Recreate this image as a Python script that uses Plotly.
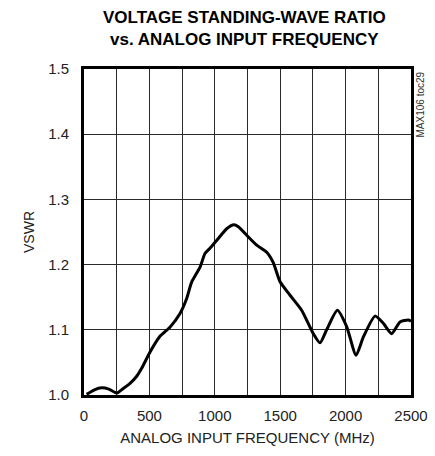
import plotly.graph_objects as go

freq_mhz = [20, 80, 135, 190, 252, 300, 352, 400, 441, 505, 581, 657, 734, 785, 823, 887, 925,
            963, 1014, 1091, 1147, 1180, 1244, 1320, 1397, 1447, 1498, 1575, 1664, 1753, 1804,
            1855, 1937, 2008, 2080, 2136, 2225, 2288, 2352, 2416, 2480, 2500]
vswr = [1.001, 1.008, 1.011, 1.009, 1.003, 1.010, 1.018, 1.028, 1.041, 1.066, 1.090, 1.104, 1.125,
        1.148, 1.173, 1.196, 1.217, 1.225, 1.237, 1.255, 1.261, 1.258, 1.245, 1.230, 1.219, 1.203,
        1.174, 1.153, 1.130, 1.094, 1.080, 1.100, 1.130, 1.105, 1.061, 1.089, 1.121, 1.110, 1.094,
        1.112, 1.115, 1.113]

x_ticks = [0, 500, 1000, 1500, 2000, 2500]
y_ticks = [1.0, 1.1, 1.2, 1.3, 1.4, 1.5]

FONT = "Liberation Sans Narrow, Liberation Sans, Arial, sans-serif"
TFONT = "Liberation Sans, Arial, sans-serif"

fig = go.Figure()
fig.add_trace(go.Scatter(x=freq_mhz, y=vswr, mode="lines",
                         line=dict(color="black", width=3, shape="spline", smoothing=0.6),
                         hoverinfo="skip", showlegend=False))

fig.update_layout(
    width=435, height=456,
    margin=dict(l=84, r=24, t=69, b=61, autoexpand=False),
    paper_bgcolor="white", plot_bgcolor="white",
    font=dict(family=FONT, size=15, color="#222"),
    xaxis=dict(range=[0, 2500], tickvals=x_ticks, ticktext=[str(v) for v in x_ticks],
               showgrid=True, gridcolor="#2a2a2a", gridwidth=1,
               showline=True, linecolor="black", linewidth=3, mirror=True,
               ticks="", zeroline=False, automargin=False, ticklabelstandoff=5,
               minor=dict(dtick=250, tick0=0, showgrid=True, gridcolor="#2a2a2a", gridwidth=1),
               title=dict(text="ANALOG INPUT FREQUENCY (MHz)", standoff=10,
                          font=dict(family=FONT, size=15, color="#222"))),
    yaxis=dict(range=[1.0, 1.5], tickvals=y_ticks, ticktext=[f"{v:.1f}" for v in y_ticks],
               showgrid=True, gridcolor="#2a2a2a", gridwidth=1,
               showline=True, linecolor="black", linewidth=3, mirror=True,
               ticks="", zeroline=False, automargin=False, ticklabelstandoff=9,
               title=dict(text="VSWR", standoff=11,
                          font=dict(family=FONT, size=14, color="#222"))),
)

fig.add_annotation(text="<b>VOLTAGE STANDING-WAVE RATIO</b>", xref="paper", yref="paper",
                   x=0.492, y=1.1595, xanchor="center", yanchor="middle", showarrow=False,
                   font=dict(family=TFONT, size=17, color="black"))
fig.add_annotation(text="<b>vs. ANALOG INPUT FREQUENCY</b>", xref="paper", yref="paper",
                   x=0.492, y=1.089, xanchor="center", yanchor="middle", showarrow=False,
                   font=dict(family=TFONT, size=17, color="black"))

fig.add_annotation(text="MAX106 toc29", xref="paper", yref="paper", x=1.0, y=1.0,
                   xanchor="left", yanchor="top", xshift=1, yshift=-1, textangle=-90,
                   showarrow=False, font=dict(family=FONT, size=10, color="#333"))

fig.write_html("out.html", config={"displayModeBar": False},
               post_script="document.body.style.margin='0';document.body.style.padding='0';")
